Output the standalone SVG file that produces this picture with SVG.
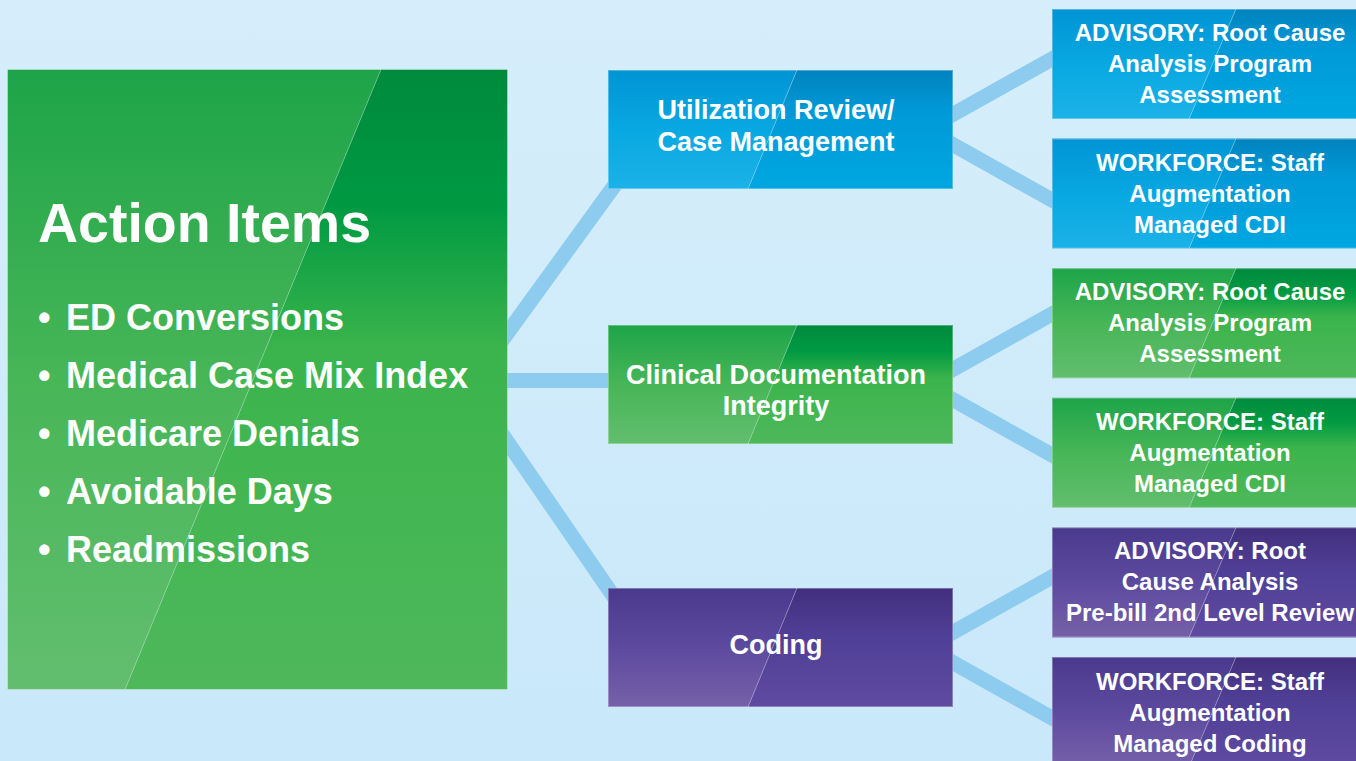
<svg xmlns="http://www.w3.org/2000/svg" width="1356" height="761" viewBox="0 0 1356 761">
<style>
  text { font-family: "Liberation Sans", Arial, sans-serif; font-weight: bold; fill: #ffffff; }
  .mid { font-size: 27px; text-anchor: middle; }
  .sub { font-size: 24px; text-anchor: middle; }
  .title { font-size: 55.5px; }
  .bullet { font-size: 36px; }
  .conn { stroke: #8dcbef; stroke-width: 15; fill: none; }
  .edge { fill: none; stroke: #ffffff; stroke-opacity: 0.3; stroke-width: 1; }
  .streak { stroke: #ffffff; stroke-opacity: 0.25; stroke-width: 1; }
</style>
<defs>
  <linearGradient id="bg" x1="0" y1="0" x2="0" y2="1">
    <stop offset="0" stop-color="#d6eefb"/>
    <stop offset="1" stop-color="#c9e8fa"/>
  </linearGradient>
  <linearGradient id="gR" x1="0" y1="0" x2="0" y2="1">
    <stop offset="0" stop-color="#008a3d"/>
    <stop offset="0.22" stop-color="#009a42"/>
    <stop offset="0.45" stop-color="#3bb44c"/>
    <stop offset="1" stop-color="#4eb85b"/>
  </linearGradient>
  <linearGradient id="gL" x1="0" y1="0" x2="0" y2="1">
    <stop offset="0" stop-color="#1ea449"/>
    <stop offset="0.5" stop-color="#47b657"/>
    <stop offset="1" stop-color="#62be6e"/>
  </linearGradient>
  <linearGradient id="bR" x1="0" y1="0" x2="0" y2="1">
    <stop offset="0" stop-color="#0083be"/>
    <stop offset="0.35" stop-color="#0099d8"/>
    <stop offset="1" stop-color="#00a7e1"/>
  </linearGradient>
  <linearGradient id="bL" x1="0" y1="0" x2="0" y2="1">
    <stop offset="0" stop-color="#0094d4"/>
    <stop offset="0.5" stop-color="#08a8e2"/>
    <stop offset="1" stop-color="#1bb2e7"/>
  </linearGradient>
  <linearGradient id="pR" x1="0" y1="0" x2="0" y2="1">
    <stop offset="0" stop-color="#422f7d"/>
    <stop offset="0.4" stop-color="#4f3f96"/>
    <stop offset="1" stop-color="#5f4ba1"/>
  </linearGradient>
  <linearGradient id="pL" x1="0" y1="0" x2="0" y2="1">
    <stop offset="0" stop-color="#4a3a8e"/>
    <stop offset="0.45" stop-color="#5a489d"/>
    <stop offset="1" stop-color="#7660a9"/>
  </linearGradient>
</defs>

<rect x="0" y="0" width="1356" height="761" fill="url(#bg)"/>

<g id="connectors">
  <line class="conn" x1="469" y1="386" x2="625" y2="171"/>
  <line class="conn" x1="480" y1="380.5" x2="630" y2="380.5"/>
  <line class="conn" x1="469" y1="386" x2="625" y2="613"/>
  <line class="conn" x1="926" y1="129.5" x2="1080" y2="43.2"/>
  <line class="conn" x1="926" y1="129.5" x2="1080" y2="215.8"/>
  <line class="conn" x1="926" y1="384.5" x2="1080" y2="298.2"/>
  <line class="conn" x1="926" y1="384.5" x2="1080" y2="470.8"/>
  <line class="conn" x1="926" y1="647.5" x2="1080" y2="561.2"/>
  <line class="conn" x1="926" y1="647.5" x2="1080" y2="733.8"/>
</g>

<g id="action-items" transform="translate(7.5,69.5)">
  <polygon points="0,0 373.5,0 117.5,620 0,620" fill="url(#gL)"/>
  <polygon points="373.5,0 500,0 500,620 117.5,620" fill="url(#gR)"/>
  <line class="streak" x1="373.5" y1="0" x2="117.5" y2="620"/>
  <rect class="edge" x="0" y="0" width="500" height="620"/>
  <text class="title" x="30.5" y="172.5">Action Items</text>
  <text class="bullet" y="260.5"><tspan x="30.5">•</tspan><tspan x="58.5">ED Conversions</tspan></text>
  <text class="bullet" y="318.5"><tspan x="30.5">•</tspan><tspan x="58.5">Medical Case Mix Index</tspan></text>
  <text class="bullet" y="376.5"><tspan x="30.5">•</tspan><tspan x="58.5">Medicare Denials</tspan></text>
  <text class="bullet" y="434.5"><tspan x="30.5">•</tspan><tspan x="58.5">Avoidable Days</tspan></text>
  <text class="bullet" y="492.5"><tspan x="30.5">•</tspan><tspan x="58.5">Readmissions</tspan></text>
</g>

<g id="utilization-review" transform="translate(608,70)">
  <polygon points="0,0 189,0 140,119 0,119" fill="url(#bL)"/>
  <polygon points="189,0 345,0 345,119 140,119" fill="url(#bR)"/>
  <line class="streak" x1="189" y1="0" x2="140" y2="119"/>
  <rect class="edge" x="0.5" y="0.5" width="344" height="118"/>
  <text class="mid" x="168" y="49">Utilization Review/</text>
  <text class="mid" x="168" y="81">Case Management</text>
</g>

<g id="clinical-documentation" transform="translate(608,325)">
  <polygon points="0,0 189,0 140,119 0,119" fill="url(#gL)"/>
  <polygon points="189,0 345,0 345,119 140,119" fill="url(#gR)"/>
  <line class="streak" x1="189" y1="0" x2="140" y2="119"/>
  <rect class="edge" x="0.5" y="0.5" width="344" height="118"/>
  <text class="mid" x="168" y="59">Clinical Documentation</text>
  <text class="mid" x="168" y="90">Integrity</text>
</g>

<g id="coding" transform="translate(608,588)">
  <polygon points="0,0 189,0 140,119 0,119" fill="url(#pL)"/>
  <polygon points="189,0 345,0 345,119 140,119" fill="url(#pR)"/>
  <line class="streak" x1="189" y1="0" x2="140" y2="119"/>
  <rect class="edge" x="0.5" y="0.5" width="344" height="118"/>
  <text class="mid" x="168" y="66">Coding</text>
</g>

<g id="ur-advisory" transform="translate(1052,9)">
  <polygon points="0,0 184,0 137,110 0,110" fill="url(#bL)"/>
  <polygon points="184,0 320,0 320,110 137,110" fill="url(#bR)"/>
  <line class="streak" x1="184" y1="0" x2="137" y2="110"/>
  <rect class="edge" x="0.5" y="0.5" width="319" height="109"/>
  <text class="sub" x="158" y="32">ADVISORY: Root Cause</text>
  <text class="sub" x="158" y="63">Analysis Program</text>
  <text class="sub" x="158" y="94">Assessment</text>
</g>

<g id="ur-workforce" transform="translate(1052,138.6)">
  <polygon points="0,0 184,0 137,110 0,110" fill="url(#bL)"/>
  <polygon points="184,0 320,0 320,110 137,110" fill="url(#bR)"/>
  <line class="streak" x1="184" y1="0" x2="137" y2="110"/>
  <rect class="edge" x="0.5" y="0.5" width="319" height="109"/>
  <text class="sub" x="158" y="32">WORKFORCE: Staff</text>
  <text class="sub" x="158" y="63">Augmentation</text>
  <text class="sub" x="158" y="94">Managed CDI</text>
</g>

<g id="cdi-advisory" transform="translate(1052,268.2)">
  <polygon points="0,0 184,0 137,110 0,110" fill="url(#gL)"/>
  <polygon points="184,0 320,0 320,110 137,110" fill="url(#gR)"/>
  <line class="streak" x1="184" y1="0" x2="137" y2="110"/>
  <rect class="edge" x="0.5" y="0.5" width="319" height="109"/>
  <text class="sub" x="158" y="32">ADVISORY: Root Cause</text>
  <text class="sub" x="158" y="63">Analysis Program</text>
  <text class="sub" x="158" y="94">Assessment</text>
</g>

<g id="cdi-workforce" transform="translate(1052,397.8)">
  <polygon points="0,0 184,0 137,110 0,110" fill="url(#gL)"/>
  <polygon points="184,0 320,0 320,110 137,110" fill="url(#gR)"/>
  <line class="streak" x1="184" y1="0" x2="137" y2="110"/>
  <rect class="edge" x="0.5" y="0.5" width="319" height="109"/>
  <text class="sub" x="158" y="32">WORKFORCE: Staff</text>
  <text class="sub" x="158" y="63">Augmentation</text>
  <text class="sub" x="158" y="94">Managed CDI</text>
</g>

<g id="coding-advisory" transform="translate(1052,527.4)">
  <polygon points="0,0 184,0 137,110 0,110" fill="url(#pL)"/>
  <polygon points="184,0 320,0 320,110 137,110" fill="url(#pR)"/>
  <line class="streak" x1="184" y1="0" x2="137" y2="110"/>
  <rect class="edge" x="0.5" y="0.5" width="319" height="109"/>
  <text class="sub" x="158" y="32">ADVISORY: Root</text>
  <text class="sub" x="158" y="63">Cause Analysis</text>
  <text class="sub" x="158" y="94">Pre-bill 2nd Level Review</text>
</g>

<g id="coding-workforce" transform="translate(1052,657)">
  <polygon points="0,0 184,0 137,110 0,110" fill="url(#pL)"/>
  <polygon points="184,0 320,0 320,110 137,110" fill="url(#pR)"/>
  <line class="streak" x1="184" y1="0" x2="137" y2="110"/>
  <rect class="edge" x="0.5" y="0.5" width="319" height="109"/>
  <text class="sub" x="158" y="33">WORKFORCE: Staff</text>
  <text class="sub" x="158" y="64">Augmentation</text>
  <text class="sub" x="158" y="95">Managed Coding</text>
</g>
</svg>
